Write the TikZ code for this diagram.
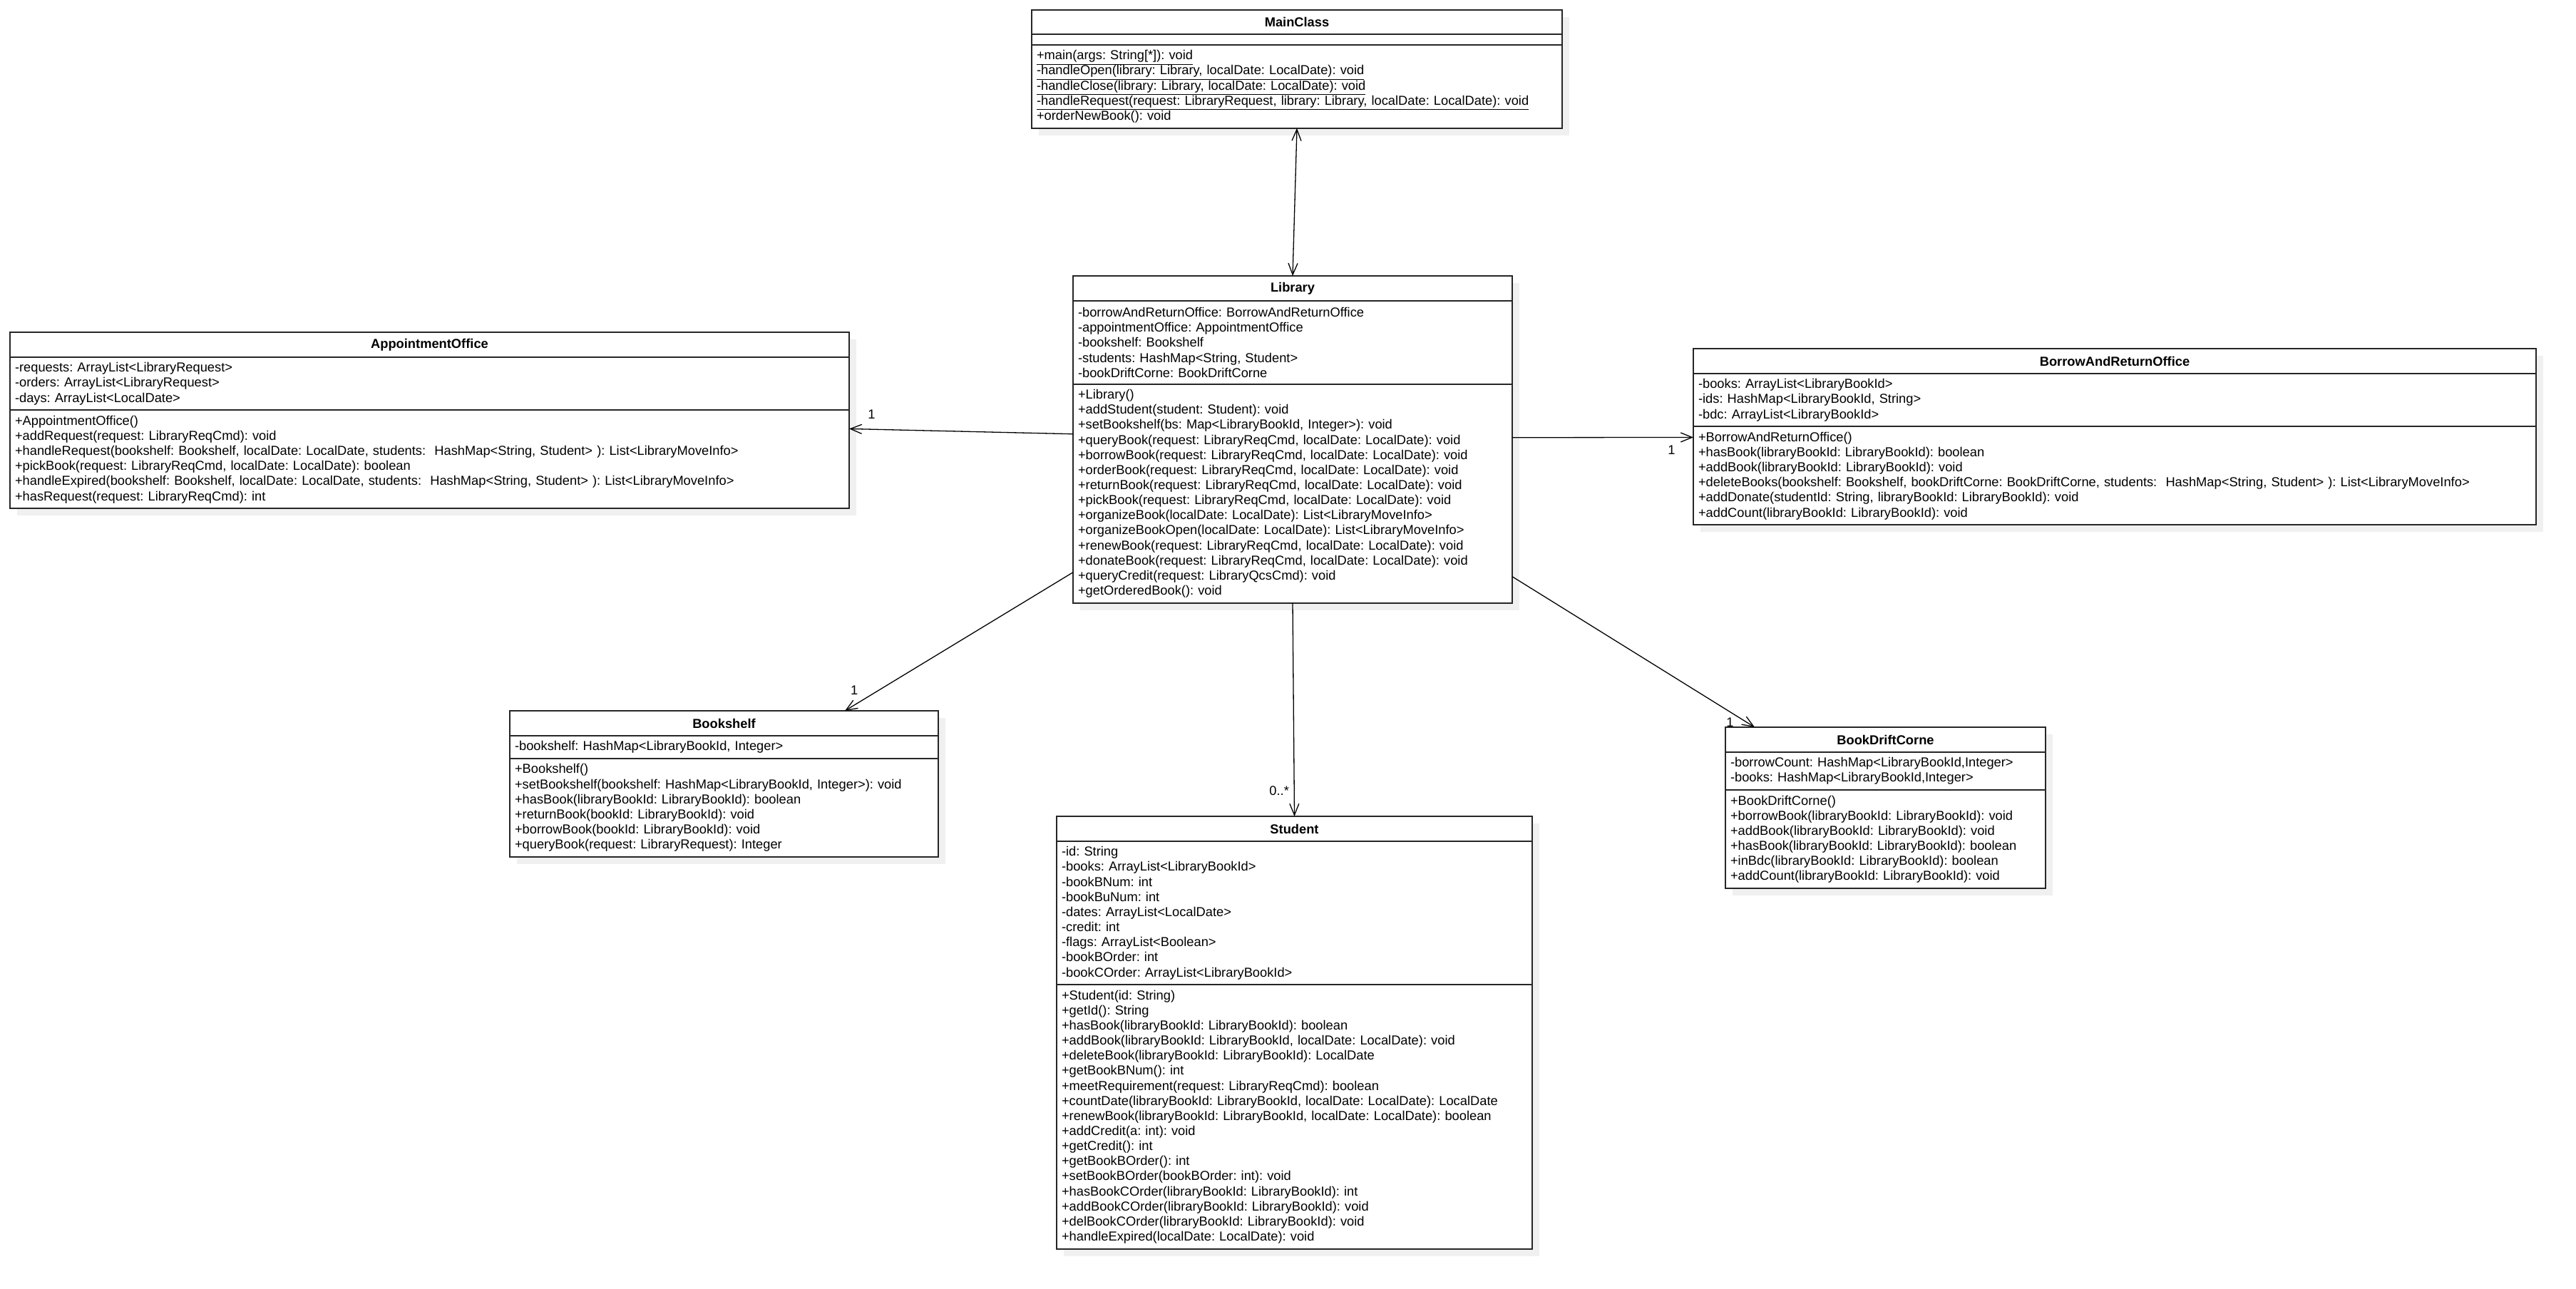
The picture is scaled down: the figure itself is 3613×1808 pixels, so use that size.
\documentclass[tikz,border=0pt]{standalone}
\usepackage{fontspec}
\setmainfont{Liberation Sans}
\usetikzlibrary{arrows.meta,positioning,calc,shadows}
\frenchspacing

\begin{document}
\begin{tikzpicture}[
x=0.5pt, y=-0.5pt,
font=\fontsize{9.15pt}{10.575pt}\selectfont,
head/.style={draw=black!85, line width=1pt, fill=white, anchor=north west, text width=#1, align=center, minimum height=17.5pt, inner xsep=3.5pt, inner ysep=0pt, outer sep=0pt, font=\fontsize{9.15pt}{10.575pt}\selectfont\bfseries, drop shadow={shadow xshift=5pt, shadow yshift=-5pt, fill=black!6, opacity=1}},
sect/.style 2 args={draw=black!85, line width=1pt, fill=white, text width=#1, align=left, minimum height=#2*10.575pt+5.5pt, inner xsep=3.5pt, inner ysep=2pt, outer sep=0pt, drop shadow={shadow xshift=5pt, shadow yshift=-5pt, fill=black!6, opacity=1}},
assoc/.style={-{Straight Barb[length=8pt, width=6.5pt]}, line width=0.65pt},
bidir/.style={{Straight Barb[length=8pt, width=6.5pt]}-{Straight Barb[length=8pt, width=6.5pt]}, line width=0.65pt}
]
\path[fill=white, use as bounding box] (0,0) rectangle (3613,1808);

% MainClass
\node[head=365pt, minimum height=17pt] (main) at (1447,14) {MainClass};
\node[sect={365pt}{0}, minimum height=7.5pt, below=0pt of main] (mainattr) {};
\node[sect={365pt}{5}, below=0pt of mainattr] (mainops) {\underline{+main(args: String[*]): void}\\\underline{-handleOpen(library: Library, localDate: LocalDate): void}\\\underline{-handleClose(library: Library, localDate: LocalDate): void}\\\underline{-handleRequest(request: LibraryRequest, library: Library, localDate: LocalDate): void}\\+orderNewBook(): void};

% Library
\node[head=301pt] (lib) at (1505,387) {Library};
\node[sect={301pt}{5}, below=0pt of lib] (libattr) {-borrowAndReturnOffice: BorrowAndReturnOffice\\-appointmentOffice: AppointmentOffice\\-bookshelf: Bookshelf\\-students: HashMap<String, Student>\\-bookDriftCorne: BookDriftCorne};
\node[sect={301pt}{14}, below=0pt of libattr] (libops) {+Library()\\+addStudent(student: Student): void\\+setBookshelf(bs: Map<LibraryBookId, Integer>): void\\+queryBook(request: LibraryReqCmd, localDate: LocalDate): void\\+borrowBook(request: LibraryReqCmd, localDate: LocalDate): void\\+orderBook(request: LibraryReqCmd, localDate: LocalDate): void\\+returnBook(request: LibraryReqCmd, localDate: LocalDate): void\\+pickBook(request: LibraryReqCmd, localDate: LocalDate): void\\+organizeBook(localDate: LocalDate): List<LibraryMoveInfo>\\+organizeBookOpen(localDate: LocalDate): List<LibraryMoveInfo>\\+renewBook(request: LibraryReqCmd, localDate: LocalDate): void\\+donateBook(request: LibraryReqCmd, localDate: LocalDate): void\\+queryCredit(request: LibraryQcsCmd): void\\+getOrderedBook(): void};

% AppointmentOffice
\node[head=581.5pt] (ao) at (14,466) {AppointmentOffice};
\node[sect={581.5pt}{3}, below=0pt of ao] (aoattr) {-requests: ArrayList<LibraryRequest>\\-orders: ArrayList<LibraryRequest>\\-days: ArrayList<LocalDate>};
\node[sect={581.5pt}{6}, below=0pt of aoattr] (aoops) {+AppointmentOffice()\\+addRequest(request: LibraryReqCmd): void\\+handleRequest(bookshelf: Bookshelf, localDate: LocalDate, students: \ HashMap<String, Student> ): List<LibraryMoveInfo>\\+pickBook(request: LibraryReqCmd, localDate: LocalDate): boolean\\+handleExpired(bookshelf: Bookshelf, localDate: LocalDate, students: \ HashMap<String, Student> ): List<LibraryMoveInfo>\\+hasRequest(request: LibraryReqCmd): int};

% BorrowAndReturnOffice
\node[head=584pt] (baro) at (2375,489) {BorrowAndReturnOffice};
\node[sect={584pt}{3}, below=0pt of baro] (baroattr) {-books: ArrayList<LibraryBookId>\\-ids: HashMap<LibraryBookId, String>\\-bdc: ArrayList<LibraryBookId>};
\node[sect={584pt}{6}, below=0pt of baroattr] (baroops) {+BorrowAndReturnOffice()\\+hasBook(libraryBookId: LibraryBookId): boolean\\+addBook(libraryBookId: LibraryBookId): void\\+deleteBooks(bookshelf: Bookshelf, bookDriftCorne: BookDriftCorne, students: \ HashMap<String, Student> ): List<LibraryMoveInfo>\\+addDonate(studentId: String, libraryBookId: LibraryBookId): void\\+addCount(libraryBookId: LibraryBookId): void};

% Bookshelf
\node[head=293.5pt] (shelf) at (715,997) {Bookshelf};
\node[sect={293.5pt}{1}, below=0pt of shelf] (shelfattr) {-bookshelf: HashMap<LibraryBookId, Integer>};
\node[sect={293.5pt}{6}, below=0pt of shelfattr] (shelfops) {+Bookshelf()\\+setBookshelf(bookshelf: HashMap<LibraryBookId, Integer>): void\\+hasBook(libraryBookId: LibraryBookId): boolean\\+returnBook(bookId: LibraryBookId): void\\+borrowBook(bookId: LibraryBookId): void\\+queryBook(request: LibraryRequest): Integer};

% Student
\node[head=326.5pt] (stu) at (1482,1145) {Student};
\node[sect={326.5pt}{9}, below=0pt of stu] (stuattr) {-id: String\\-books: ArrayList<LibraryBookId>\\-bookBNum: int\\-bookBuNum: int\\-dates: ArrayList<LocalDate>\\-credit: int\\-flags: ArrayList<Boolean>\\-bookBOrder: int\\-bookCOrder: ArrayList<LibraryBookId>};
\node[sect={326.5pt}{17}, below=0pt of stuattr] (stuops) {+Student(id: String)\\+getId(): String\\+hasBook(libraryBookId: LibraryBookId): boolean\\+addBook(libraryBookId: LibraryBookId, localDate: LocalDate): void\\+deleteBook(libraryBookId: LibraryBookId): LocalDate\\+getBookBNum(): int\\+meetRequirement(request: LibraryReqCmd): boolean\\+countDate(libraryBookId: LibraryBookId, localDate: LocalDate): LocalDate\\+renewBook(libraryBookId: LibraryBookId, localDate: LocalDate): boolean\\+addCredit(a: int): void\\+getCredit(): int\\+getBookBOrder(): int\\+setBookBOrder(bookBOrder: int): void\\+hasBookCOrder(libraryBookId: LibraryBookId): int\\+addBookCOrder(libraryBookId: LibraryBookId): void\\+delBookCOrder(libraryBookId: LibraryBookId): void\\+handleExpired(localDate: LocalDate): void};

% BookDriftCorne
\node[head=217.5pt] (bdc) at (2420,1020) {BookDriftCorne};
\node[sect={217.5pt}{2}, below=0pt of bdc] (bdcattr) {-borrowCount: HashMap<LibraryBookId,Integer>\\-books: HashMap<LibraryBookId,Integer>};
\node[sect={217.5pt}{6}, below=0pt of bdcattr] (bdcops) {+BookDriftCorne()\\+borrowBook(libraryBookId: LibraryBookId): void\\+addBook(libraryBookId: LibraryBookId): void\\+hasBook(libraryBookId: LibraryBookId): boolean\\+inBdc(libraryBookId: LibraryBookId): boolean\\+addCount(libraryBookId: LibraryBookId): void};

% associations
\draw[bidir] (mainops.south) -- (lib.north);
\draw[assoc] ($(libops.north west)+(0,70)$) -- node[pos=0.9, above=3.5pt] {1} ($(aoops.north east)+(0,26)$);
\draw[assoc] ($(libops.north east)+(0,75)$) -- node[pos=0.88, below=2pt] {1} ($(baroops.north west)+(0,15)$);
\draw[assoc] ($(libops.north west)+(0,264)$) -- node[pos=0.92, above left=0pt] {1} ($(shelf.north west)+(470,0)$);
\draw[assoc] (libops.south) -- node[pos=0.88, left=0pt] {0..*} (stu.north);
\draw[assoc] ($(libops.north east)+(0,270)$) -- node[pos=0.97, left=6pt] {1} ($(bdc.north west)+(41,0)$);
\end{tikzpicture}
\end{document}
